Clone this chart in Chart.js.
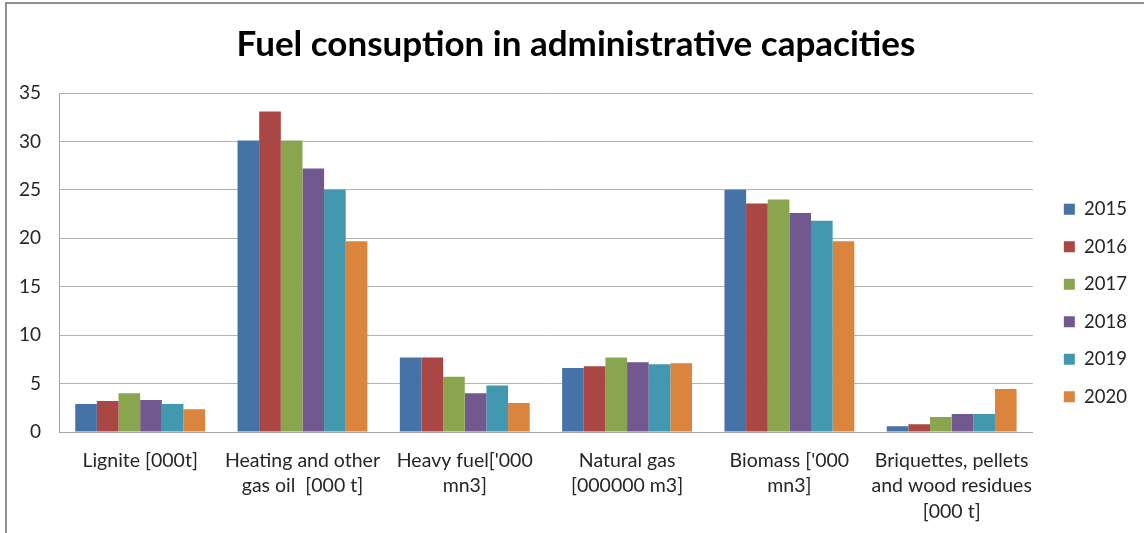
<!DOCTYPE html>
<html>
<head>
<meta charset="utf-8">
<script src="https://cdn.jsdelivr.net/npm/chart.js@4"></script>
<style>
  html, body { margin: 0; padding: 0; background: #ffffff; }
  #wrap { position: relative; width: 1144px; height: 533px; overflow: hidden; }
  #c { position: absolute; left: 0; top: 0; }
  #frame { position: absolute; left: 5px; top: 2px; width: 1200px; height: 600px;
           border-left: 2px solid #8f8f8f; border-top: 2px solid #8f8f8f; pointer-events: none; }
</style>
</head>
<body>
<div id="wrap">
  <canvas id="c" width="1144" height="533"></canvas>
  <div id="frame"></div>
</div>
<script>
const title = 'Fuel consuption in administrative capacities';
const categories = [
  'Lignite [000t]',
  ['Heating and other', 'gas oil  [000 t]'],
  ["Heavy fuel['000", 'mn3]'],
  ['Natural gas', '[000000 m3]'],
  ["Biomass ['000", 'mn3]'],
  ['Briquettes, pellets', 'and wood residues', '[000 t]']
];
const years = ['2015', '2016', '2017', '2018', '2019', '2020'];
const v2015 = [2.9, 30.1, 7.7, 6.6, 25.0, 0.6];
const v2016 = [3.2, 33.1, 7.7, 6.8, 23.6, 0.8];
const v2017 = [4.0, 30.1, 5.7, 7.7, 24.0, 1.55];
const v2018 = [3.3, 27.2, 4.0, 7.2, 22.6, 1.85];
const v2019 = [2.9, 25.0, 4.8, 7.0, 21.8, 1.85];
const v2020 = [2.35, 19.7, 3.0, 7.1, 19.7, 4.45];
const seriesValues = [v2015, v2016, v2017, v2018, v2019, v2020];
const colors = ['#4572A7', '#AA4643', '#89A54E', '#71588F', '#4198AF', '#DB843D'];
const yMin = 0, yMax = 35, yStep = 5;

const FONT = 'Lato, "Noto Sans", sans-serif';

const shiftPlugin = {
  id: 'shiftPlugin',
  afterLayout(chart) {
    const lg = chart.legend;
    if (lg) { lg.left += 12; lg.right += 12; lg.top -= 7; lg.bottom -= 7; }
    const tb = chart.titleBlock;
    if (tb) { tb.right += 27; }
  }
};

new Chart(document.getElementById('c'), {
  type: 'bar',
  data: {
    labels: categories,
    datasets: years.map((y, i) => ({
      label: y,
      data: seriesValues[i],
      backgroundColor: colors[i],
      borderWidth: 0,
      categoryPercentage: 0.8,
      barPercentage: 1.0
    }))
  },
  options: {
    responsive: false,
    animation: false,
    devicePixelRatio: 1,
    layout: { padding: { left: 0, right: 19, top: 0, bottom: 0 } },
    plugins: {
      tooltip: { enabled: false },
      title: {
        display: true,
        text: title,
        color: '#000000',
        font: { family: FONT, size: 35, weight: 'bold', lineHeight: 1.2 },
        padding: { top: 24, bottom: 27 }
      },
      legend: {
        display: true,
        position: 'right',
        align: 'end',
        fullSize: false,
        labels: {
          boxWidth: 11,
          boxHeight: 11,
          padding: 19,
          color: '#262626',
          font: { family: FONT, size: 18.5 }
        }
      }
    },
    scales: {
      x: {
        grid: { display: false, drawTicks: false },
        border: { display: true, color: '#a6a6a6', width: 1 },
        ticks: {
          color: '#262626',
          font: { family: FONT, size: 19.5, lineHeight: 1.3 },
          padding: 16,
          maxRotation: 0,
          minRotation: 0,
          autoSkip: false
        },
        afterFit(scale) { scale.height = 101; }
      },
      y: {
        min: yMin,
        max: yMax,
        grid: { color: '#b3b3b3', lineWidth: 1, drawTicks: false },
        border: { display: true, color: '#a6a6a6', width: 1 },
        ticks: {
          stepSize: yStep,
          color: '#262626',
          font: { family: FONT, size: 19 },
          padding: 18
        },
        afterFit(scale) { scale.width = 59; }
      }
    }
  },
  plugins: [shiftPlugin]
});
</script>
</body>
</html>
